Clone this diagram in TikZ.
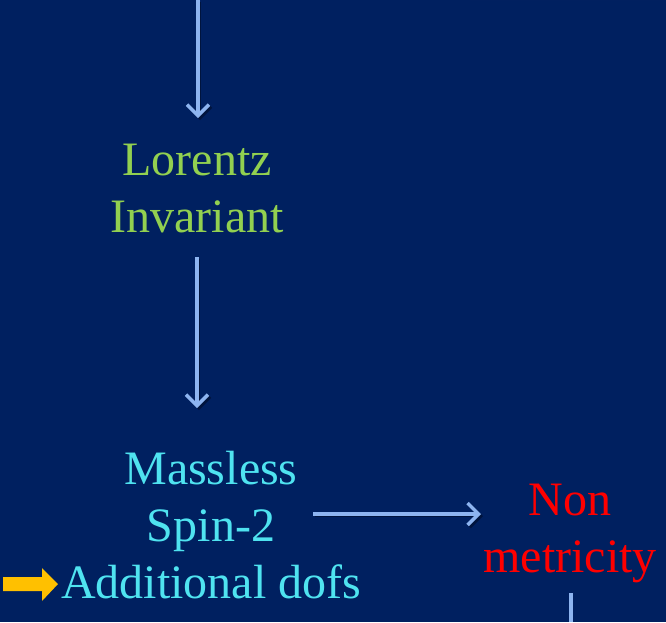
\documentclass[tikz,border=0pt]{standalone}
\usepackage{fontspec}
\setmainfont{Liberation Serif}
\usetikzlibrary{arrows.meta}
\definecolor{bg}{HTML}{002060}
\definecolor{arrowblue}{HTML}{8DB4F0}
\definecolor{lgreen}{HTML}{92D050}
\definecolor{lcyan}{HTML}{4FE3F0}
\definecolor{lred}{HTML}{FF0000}
\definecolor{gold}{HTML}{FFC000}
\tikzset{
  lbl/.style={font=\fontsize{48pt}{57pt}\selectfont, align=center, inner sep=0pt},
  flow/.style={draw=arrowblue, line width=4pt, -{Straight Barb[length=11pt,width=22pt,line width=3.5pt]},
    preaction={draw=black, opacity=0.35, transform canvas={shift={(2pt,-2pt)}}}},
  plain/.style={draw=arrowblue, line width=4pt},
}
\begin{document}
\begin{tikzpicture}[x=1pt,y=1pt]
\fill[bg] (0,0) rectangle (666,-622);
\useasboundingbox (0,0) rectangle (666,-622);
% faint sheen at top right
\fill[white, opacity=0.03] (470,0) .. controls (560,60) and (630,130) .. (666,200) -- (666,0) -- cycle;
\coordinate (top) at (198,0);
\node[lbl, text=lgreen] (lor) at (197,-189) {Lorentz\\Invariant};
\node[lbl, text=lcyan] (mass) at (211,-525) {Massless\\Spin-2\\Additional dofs};
\node[lbl, text=lred] (non) at (570,-533) {Non\\metricity};
\coordinate (a1e) at (198,-118);
\coordinate (a2s) at (197,-257);
\coordinate (a2e) at (197,-408);
\coordinate (h1s) at (313,-514);
\coordinate (h1e) at (481,-514);
\coordinate (vs) at (571,-593);
\coordinate (ve) at (571,-622);
\draw[flow] (top) -- (a1e);
\draw[flow] (a2s) -- (a2e);
\draw[flow] (h1s) -- (h1e);
\draw[plain] (vs) -- (ve);
% yellow block arrow
\fill[gold] (3,-577) -- (42,-577) -- (42,-568) -- (58,-584) -- (42,-601) -- (42,-591) -- (3,-591) -- cycle;
\end{tikzpicture}
\end{document}
